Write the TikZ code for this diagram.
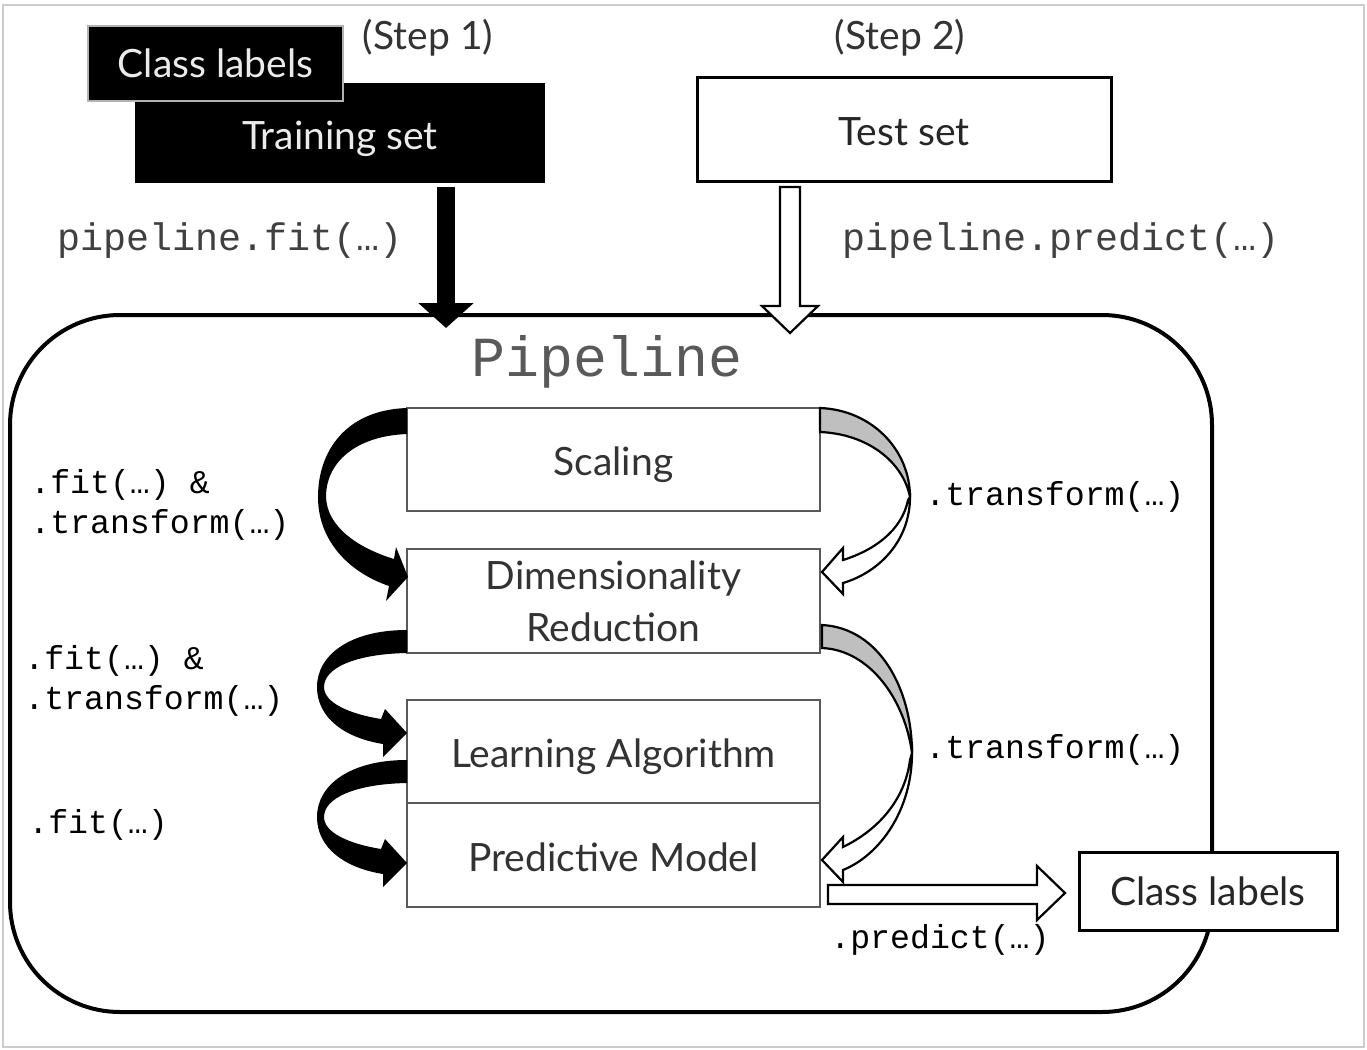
\documentclass[tikz,border=0pt]{standalone}
\usepackage{fontspec}
\setmainfont{Lato}
\newfontfamily\codefont{Liberation Mono}
\usetikzlibrary{arrows.meta}
\begin{document}
\begin{tikzpicture}[x=0.5pt,y=-0.5pt,
  lbl/.style={font=\fontsize{19.5}{26}\selectfont},
  lowered/.style={text height=16pt,text depth=0pt},
  blackbox/.style={lbl,fill=black,text=white!92!black,inner sep=0pt},
  whitebox/.style={lbl,draw=black,fill=white,line width=1.5pt,text=black!85,inner sep=0pt},
  stagebox/.style={lbl,draw=black!65,fill=white,line width=0.9pt,text=black!80,inner sep=0pt,minimum width=206.5pt,align=center},
  codebig/.style={font=\codefont\fontsize{19.2}{22}\selectfont,text=black!75},
  codesmall/.style={font=\codefont\fontsize{16.6}{20}\selectfont,text=black,align=left,anchor=west,inner sep=0pt},
  fatarrow/.style={line width=9pt,-{Triangle[width=27pt,length=12.5pt]}},
  hollow/.style={draw=black,fill=white,line width=1.1pt,line join=miter},
  band/.style={draw=black,fill=black!25,line width=1.1pt}
]
\useasboundingbox (0,0) rectangle (1367,1050);
\draw[black!20,line width=0.8pt] (3,5) rectangle (1364,1047);

% pipeline container
\node[draw=black,line width=2pt,rounded corners=55pt,minimum width=601pt,minimum height=348.5pt,inner sep=0pt] (pipe) at (611,663.5) {};
\node[font=\codefont\fontsize{28.3}{32}\selectfont,text=black!65] (ptitle) at (607,362) {Pipeline};

% inputs
\node[blackbox,lowered,minimum width=205pt,minimum height=50pt] (train) at (340,133) {Training set};
\node[blackbox,draw=black!30,line width=0.8pt,minimum width=127.5pt,minimum height=37.5pt] (cls) at (215.5,63.5) {Class labels};
\node[lbl,text=black!80] (step1) at (428,38) {(Step 1)};
\node[lbl,text=black!80] (step2) at (900,38) {(Step 2)};
\node[whitebox,lowered,minimum width=207pt,minimum height=52pt] (test) at (904,129) {Test set};

\node[codebig] (pfit) at (230,241) {pipeline.fit(…)};
\node[codebig] (ppred) at (1061,241) {pipeline.predict(…)};

% stages
\node[stagebox,lowered,minimum height=51.5pt] (scal) at (613.5,459.5) {Scaling};
\node[stagebox,minimum height=52pt] (dim) at (613.5,601) {Dimensionality\\Reduction};
\node[stagebox,lowered,minimum height=51.5pt] (learn) at (613.5,751.5) {Learning Algorithm};
\node[stagebox,lowered,minimum height=52pt] (pred) at (613.5,855) {Predictive Model};

\node[whitebox,minimum width=129pt,minimum height=39pt] (out) at (1208,891) {Class labels};

% labels
\node[codesmall] (l1) at (30,505) {.fit(…) \&\\.transform(…)};
\node[codesmall] (l2) at (24,681) {.fit(…) \&\\.transform(…)};
\node[codesmall] (l3) at (28,825) {.fit(…)};
\node[codesmall] (r1) at (925,497) {.transform(…)};
\node[codesmall] (r2) at (925,750) {.transform(…)};
\node[codesmall] (r3) at (830,940) {.predict(…)};

% top arrows
\draw[fatarrow] ([xshift=53pt,yshift=-2pt]train.south) -- ([xshift=-82.5pt,yshift=-7.5pt]pipe.north);
\coordinate (hs) at (790,187);
\coordinate (ht) at (790,333);
\path[hollow] (780,187) -- (800,187) -- (800,306) -- (818,306) -- (ht) -- (762,306) -- (780,306) -- cycle;

% predict arrow
\coordinate (ps) at (828,894);
\coordinate (pt) at (1065,893);
\path[hollow] (828,885) -- (1037,885) -- (1037,866) -- (pt) -- (1037,920) -- (1037,904) -- (828,904) -- cycle;

% left black curved arrows
\fill[black] (407,408) .. controls (345,410) and (318,452) .. (318,497)
  .. controls (318,540) and (348,572) .. (389,586) -- (386,601) -- (408,577) -- (396,547) -- (394,559)
  .. controls (358,548) and (327,527) .. (326,497)
  .. controls (326,462) and (356,436) .. (407,434) -- cycle;
\fill[black] (407,630) .. controls (350,630) and (317,655) .. (317,687)
  .. controls (317,718) and (345,738) .. (383,744) -- (383,757) -- (407,733) -- (385,709) -- (381,719)
  .. controls (350,714) and (324,703) .. (324,687)
  .. controls (324,668) and (355,654) .. (407,653) -- cycle;
\begin{scope}[shift={(0,130)}]
\fill[black] (407,630) .. controls (350,630) and (317,655) .. (317,687)
  .. controls (317,718) and (345,738) .. (383,744) -- (383,757) -- (407,733) -- (385,709) -- (381,719)
  .. controls (350,714) and (324,703) .. (324,687)
  .. controls (324,668) and (355,654) .. (407,653) -- cycle;
\end{scope}

% right curved hollow arrows
\path[band] (820,408) .. controls (872,410) and (910,450) .. (910,497)
  .. controls (903,462) and (868,434) .. (820,432) -- cycle;
\path[hollow] (910,497) .. controls (910,540) and (880,572) .. (843,583) -- (843,594) -- (822,572) -- (843,548) -- (843,560)
  .. controls (875,550) and (902,530) .. (908,500) -- cycle;
\path[band] (822,625) .. controls (880,628) and (912,690) .. (912,753)
  .. controls (905,700) and (870,650) .. (822,648) -- cycle;
\path[hollow] (912,753) .. controls (912,810) and (880,855) .. (843,870) -- (843,882) -- (822,860) -- (843,837) -- (843,847)
  .. controls (878,830) and (905,800) .. (910,760) -- cycle;
\end{tikzpicture}
\end{document}
